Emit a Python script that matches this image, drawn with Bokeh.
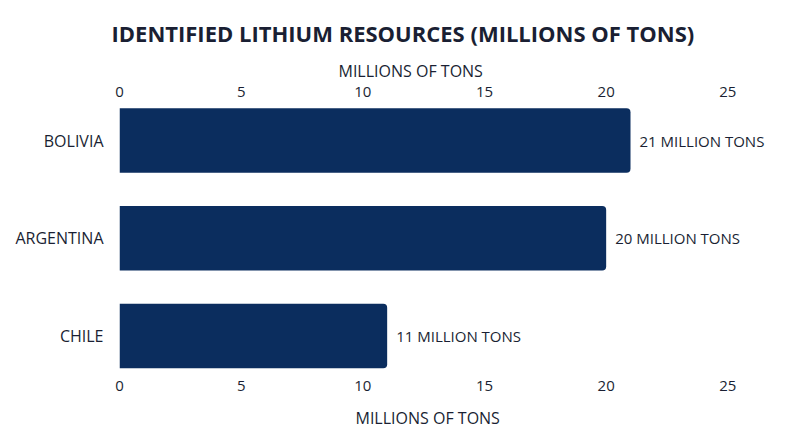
from bokeh.plotting import figure
from bokeh.models import Range1d, ColumnDataSource, FixedTicker, LinearAxis, Title
from bokeh.core.properties import value
from bokeh.embed import file_html
from bokeh.resources import INLINE

categories = ["BOLIVIA", "ARGENTINA", "CHILE"]
resources = [21, 20, 11]
value_labels = ["21 MILLION TONS", "20 MILLION TONS", "11 MILLION TONS"]
x_ticks = [0, 5, 10, 15, 20, 25]
title_text = "IDENTIFIED LITHIUM RESOURCES (MILLIONS OF TONS)"
axis_title = "MILLIONS OF TONS"

FONT = "Open Sans"
TEXT = "#1a1f33"
BAR = "#0b2d5e"

n = len(categories)
ypos = [n - i for i in range(n)]

src = ColumnDataSource(dict(y=ypos, v=resources, lab=value_labels, cat=categories))

p = figure(width=800, height=447, output_backend="svg", toolbar_location=None,
           x_range=Range1d(0, 27), y_range=Range1d(0.586, 3.389),
           min_border_left=119, min_border_right=24,
           min_border_top=102, min_border_bottom=71, title=None)
p.outline_line_color = None
p.grid.visible = False
p.background_fill_color = "white"
p.border_fill_color = "white"

p.hbar(y="y", right="v", left=0, height=0.66, source=src, fill_color=BAR,
       line_color=None, border_radius=(0, 4, 4, 0))
p.text(x="v", y="y", text="lab", source=src, x_offset=9, text_align="left",
       text_baseline="middle", text_font=value(FONT), text_font_size="15px",
       text_color=TEXT)

top = LinearAxis()
p.add_layout(top, "above")
for ax in p.xaxis:
    ax.ticker = FixedTicker(ticks=x_ticks)
    ax.axis_line_color = None
    ax.major_tick_line_color = None
    ax.minor_tick_line_color = None
    ax.major_label_text_font = FONT
    ax.major_label_text_font_size = "15px"
    ax.major_label_text_color = TEXT
    ax.major_label_standoff = 0
p.below[0].major_label_standoff = -2

p.yaxis.ticker = FixedTicker(ticks=ypos)
p.yaxis.major_label_overrides = {y: c for y, c in zip(ypos, categories)}
p.yaxis.axis_line_color = None
p.yaxis.major_tick_line_color = None
p.yaxis.minor_tick_line_color = None
p.yaxis.major_label_text_font = FONT
p.yaxis.major_label_text_font_size = "16px"
p.yaxis.major_label_text_color = TEXT
p.yaxis.major_label_standoff = 10

main_title = Title(text=title_text, align="left", offset=-8, standoff=17,
                   text_font=FONT, text_font_size="22px", text_font_style="bold",
                   text_color=TEXT)
top_label = Title(text=axis_title, align="left", offset=219, standoff=3,
                  text_font=FONT, text_font_size="16px", text_font_style="normal",
                  text_color=TEXT)
bottom_label = Title(text=axis_title, align="left", offset=236, standoff=22,
                     text_font=FONT, text_font_size="16px", text_font_style="normal",
                     text_color=TEXT)
p.above = [top, top_label, main_title]
p.below = [p.below[0], bottom_label]

open("out.html", "w").write(file_html(p, INLINE))
